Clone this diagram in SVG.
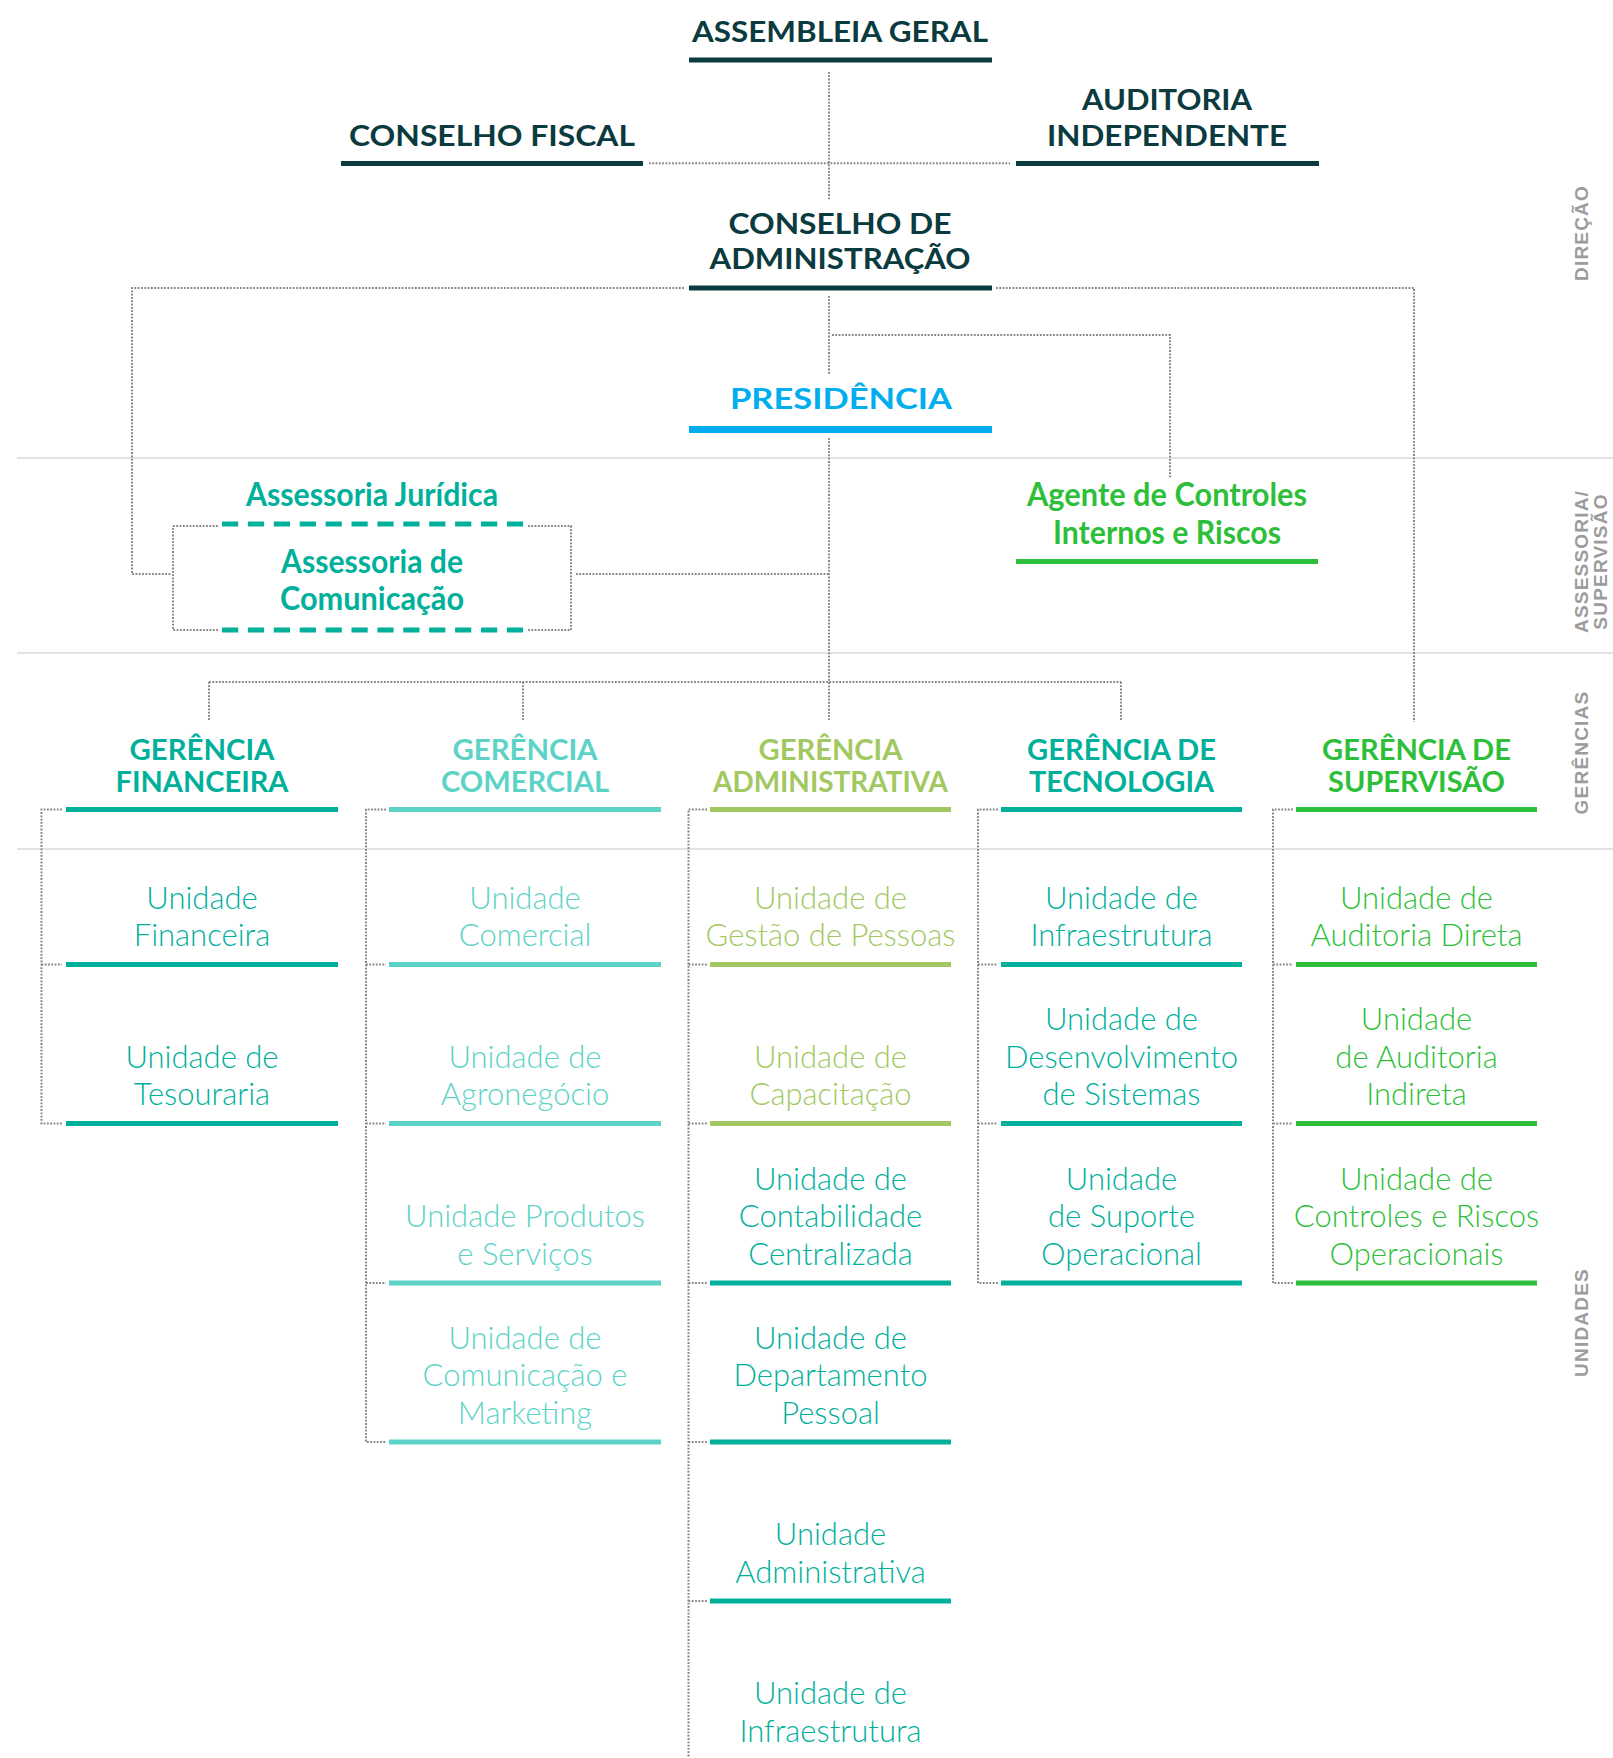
<svg xmlns="http://www.w3.org/2000/svg" width="1613" height="1758" viewBox="0 0 1613 1758">
<style>
.h{font-family:Lato,"Liberation Sans",sans-serif;font-weight:700;text-anchor:middle}
.top{font-size:29px;fill:#0b3b3e}
.g{font-size:28px}
.a{font-size:32px}
.u{font-family:Lato,"Liberation Sans",sans-serif;font-weight:300;font-size:31px;text-anchor:middle}
.side{font-family:"Liberation Sans",Arial,sans-serif;font-weight:700;font-size:19px;letter-spacing:1.2px;fill:#9c9c9c;text-anchor:middle}
.dot{stroke:#858585;stroke-width:2;stroke-dasharray:1.8 1.5;fill:none}
.sep{stroke:#e3e3e3;stroke-width:2}
.teal{fill:#00b09b}.lteal{fill:#5cd3c6}.lgreen{fill:#a2c862}.green{fill:#2ebf3a}.dark{fill:#0b3b3e}.cyan{fill:#00aeef}
</style>
<rect width="1613" height="1758" fill="#fff"/>
<g id="separators">
<line class="sep" x1="17" y1="458" x2="1613" y2="458"/>
<line class="sep" x1="17" y1="653" x2="1613" y2="653"/>
<line class="sep" x1="17" y1="849" x2="1613" y2="849"/>
</g>
<g id="side-labels">
<text class="side" transform="translate(1588,233) rotate(-90)">DIREÇÃO</text>
<text class="side" transform="translate(1588,561.5) rotate(-90)">ASSESSORIA/</text>
<text class="side" transform="translate(1607,561.5) rotate(-90)">SUPERVISÃO</text>
<text class="side" transform="translate(1588,752.5) rotate(-90)">GERÊNCIAS</text>
<text class="side" transform="translate(1588,1322.5) rotate(-90)">UNIDADES</text>
</g>
<g id="connectors">
<path class="dot" d="M829 72V200M649 163.3H1010"/>
<path class="dot" d="M684 288H132V574H171M996 288H1414V722"/>
<path class="dot" d="M829 296V375M832 335H1170V478"/>
<path class="dot" d="M173 526H218M528 526H571V630H528M218 630H173V526"/>
<path class="dot" d="M576 574H829M829 438V720M209 682H1121M209 682V720M523 682V720M1121 682V720"/>
<path class="dot" d="M62 809.5H41.5V1123.5H62M41.5 964.5H62"/>
<path class="dot" d="M386 809.5H366V1442H386M366 964.5H386M366 1123.5H386M366 1283H386"/>
<path class="dot" d="M707 809.5H688.5V1758M688.5 964.5H707M688.5 1123.5H707M688.5 1283H707M688.5 1442H707M688.5 1601H707"/>
<path class="dot" d="M998 809.5H978V1283H998M978 964.5H998M978 1123.5H998"/>
<path class="dot" d="M1293 809.5H1273V1283H1293M1273 964.5H1293M1273 1123.5H1293"/>
</g>
<g id="assembleia-geral">
<text class="h top" x="840" y="41.7" textLength="296" lengthAdjust="spacingAndGlyphs">ASSEMBLEIA GERAL</text>
<rect class="dark" x="689" y="57.5" width="303" height="5"/>
</g>
<g id="conselho-fiscal">
<text class="h top" x="492" y="145.7" textLength="286" lengthAdjust="spacingAndGlyphs">CONSELHO FISCAL</text>
<rect class="dark" x="341" y="161" width="302" height="5"/>
</g>
<g id="auditoria-independente">
<text class="h top" x="1167" y="110" textLength="170" lengthAdjust="spacingAndGlyphs">AUDITORIA</text>
<text class="h top" x="1167" y="145.7" textLength="240" lengthAdjust="spacingAndGlyphs">INDEPENDENTE</text>
<rect class="dark" x="1016" y="161" width="303" height="5"/>
</g>
<g id="conselho-administracao">
<text class="h top" x="840" y="234" textLength="223" lengthAdjust="spacingAndGlyphs">CONSELHO DE</text>
<text class="h top" x="840" y="269" textLength="261" lengthAdjust="spacingAndGlyphs">ADMINISTRAÇÃO</text>
<rect class="dark" x="689" y="285.5" width="303" height="5"/>
</g>
<g id="presidencia">
<text class="h top cyan" x="841" y="409" textLength="222" lengthAdjust="spacingAndGlyphs">PRESIDÊNCIA</text>
<rect class="cyan" x="689" y="426" width="303" height="7"/>
</g>
<g id="assessoria-juridica">
<text class="h a teal" x="372" y="506" textLength="252" lengthAdjust="spacingAndGlyphs">Assessoria Jurídica</text>
<line x1="222" y1="524" x2="524" y2="524" stroke="#00b09b" stroke-width="5" stroke-dasharray="16.2 9.7"/>
</g>
<g id="assessoria-comunicacao">
<text class="h a teal" x="372" y="573" textLength="182" lengthAdjust="spacingAndGlyphs">Assessoria de</text>
<text class="h a teal" x="372" y="610" textLength="184" lengthAdjust="spacingAndGlyphs">Comunicação</text>
<line x1="222" y1="630" x2="524" y2="630" stroke="#00b09b" stroke-width="5" stroke-dasharray="16.2 9.7"/>
</g>
<g id="agente-controles">
<text class="h a green" x="1167" y="506" textLength="280" lengthAdjust="spacingAndGlyphs">Agente de Controles</text>
<text class="h a green" x="1167" y="544" textLength="228" lengthAdjust="spacingAndGlyphs">Internos e Riscos</text>
<rect class="green" x="1016" y="559" width="302" height="5"/>
</g>
<g id="gerencia-financeira">
<text class="h g teal" x="202" y="760" textLength="145" lengthAdjust="spacingAndGlyphs">GERÊNCIA</text>
<text class="h g teal" x="202" y="792" textLength="173" lengthAdjust="spacingAndGlyphs">FINANCEIRA</text>
<rect class="teal" x="66" y="807" width="272" height="5"/>
</g>
<g id="gerencia-comercial">
<text class="h g lteal" x="525" y="760" textLength="145" lengthAdjust="spacingAndGlyphs">GERÊNCIA</text>
<text class="h g lteal" x="525" y="792" textLength="168" lengthAdjust="spacingAndGlyphs">COMERCIAL</text>
<rect class="lteal" x="389" y="807" width="272" height="5"/>
</g>
<g id="gerencia-administrativa">
<text class="h g lgreen" x="830.5" y="760" textLength="144" lengthAdjust="spacingAndGlyphs">GERÊNCIA</text>
<text class="h g lgreen" x="830.5" y="792" textLength="235" lengthAdjust="spacingAndGlyphs">ADMINISTRATIVA</text>
<rect class="lgreen" x="710" y="807" width="241" height="5"/>
</g>
<g id="gerencia-tecnologia">
<text class="h g teal" x="1121.5" y="760" textLength="189" lengthAdjust="spacingAndGlyphs">GERÊNCIA DE</text>
<text class="h g teal" x="1121.5" y="792" textLength="185" lengthAdjust="spacingAndGlyphs">TECNOLOGIA</text>
<rect class="teal" x="1001" y="807" width="241" height="5"/>
</g>
<g id="gerencia-supervisao">
<text class="h g green" x="1416.5" y="760" textLength="189" lengthAdjust="spacingAndGlyphs">GERÊNCIA DE</text>
<text class="h g green" x="1416.5" y="792" textLength="177" lengthAdjust="spacingAndGlyphs">SUPERVISÃO</text>
<rect class="green" x="1296" y="807" width="241" height="5"/>
</g>
<g id="unidade-financeira">
<text class="u teal" x="202" y="908.5">Unidade</text>
<text class="u teal" x="202" y="946">Financeira</text>
<rect class="teal" x="66" y="962" width="272" height="5"/>
</g>
<g id="unidade-tesouraria">
<text class="u teal" x="202" y="1067.5">Unidade de</text>
<text class="u teal" x="202" y="1105">Tesouraria</text>
<rect class="teal" x="66" y="1121" width="272" height="5"/>
</g>
<g id="unidade-comercial">
<text class="u lteal" x="525" y="908.5">Unidade</text>
<text class="u lteal" x="525" y="946">Comercial</text>
<rect class="lteal" x="389" y="962" width="272" height="5"/>
</g>
<g id="unidade-agronegocio">
<text class="u lteal" x="525" y="1067.5">Unidade de</text>
<text class="u lteal" x="525" y="1105">Agronegócio</text>
<rect class="lteal" x="389" y="1121" width="272" height="5"/>
</g>
<g id="unidade-produtos-servicos">
<text class="u lteal" x="525" y="1227">Unidade Produtos</text>
<text class="u lteal" x="525" y="1264.5">e Serviços</text>
<rect class="lteal" x="389" y="1280.5" width="272" height="5"/>
</g>
<g id="unidade-comunicacao-marketing">
<text class="u lteal" x="525" y="1348.5">Unidade de</text>
<text class="u lteal" x="525" y="1386">Comunicação e</text>
<text class="u lteal" x="525" y="1423.5">Marketing</text>
<rect class="lteal" x="389" y="1439.5" width="272" height="5"/>
</g>
<g id="unidade-gestao-pessoas">
<text class="u lgreen" x="830.5" y="908.5">Unidade de</text>
<text class="u lgreen" x="830.5" y="946">Gestão de Pessoas</text>
<rect class="lgreen" x="710" y="962" width="241" height="5"/>
</g>
<g id="unidade-capacitacao">
<text class="u lgreen" x="830.5" y="1067.5">Unidade de</text>
<text class="u lgreen" x="830.5" y="1105">Capacitação</text>
<rect class="lgreen" x="710" y="1121" width="241" height="5"/>
</g>
<g id="unidade-contabilidade">
<text class="u teal" x="830.5" y="1189.5">Unidade de</text>
<text class="u teal" x="830.5" y="1227">Contabilidade</text>
<text class="u teal" x="830.5" y="1264.5">Centralizada</text>
<rect class="teal" x="710" y="1280.5" width="241" height="5"/>
</g>
<g id="unidade-departamento-pessoal">
<text class="u teal" x="830.5" y="1348.5">Unidade de</text>
<text class="u teal" x="830.5" y="1386">Departamento</text>
<text class="u teal" x="830.5" y="1423.5">Pessoal</text>
<rect class="teal" x="710" y="1439.5" width="241" height="5"/>
</g>
<g id="unidade-administrativa">
<text class="u teal" x="830.5" y="1545">Unidade</text>
<text class="u teal" x="830.5" y="1582.5">Administrativa</text>
<rect class="teal" x="710" y="1598.5" width="241" height="5"/>
</g>
<g id="unidade-infraestrutura-adm">
<text class="u teal" x="830.5" y="1704">Unidade de</text>
<text class="u teal" x="830.5" y="1741.5">Infraestrutura</text>
</g>
<g id="unidade-infraestrutura">
<text class="u teal" x="1121.5" y="908.5">Unidade de</text>
<text class="u teal" x="1121.5" y="946">Infraestrutura</text>
<rect class="teal" x="1001" y="962" width="241" height="5"/>
</g>
<g id="unidade-desenvolvimento">
<text class="u teal" x="1121.5" y="1030">Unidade de</text>
<text class="u teal" x="1121.5" y="1067.5">Desenvolvimento</text>
<text class="u teal" x="1121.5" y="1105">de Sistemas</text>
<rect class="teal" x="1001" y="1121" width="241" height="5"/>
</g>
<g id="unidade-suporte">
<text class="u teal" x="1121.5" y="1189.5">Unidade</text>
<text class="u teal" x="1121.5" y="1227">de Suporte</text>
<text class="u teal" x="1121.5" y="1264.5">Operacional</text>
<rect class="teal" x="1001" y="1280.5" width="241" height="5"/>
</g>
<g id="unidade-auditoria-direta">
<text class="u green" x="1416.5" y="908.5">Unidade de</text>
<text class="u green" x="1416.5" y="946">Auditoria Direta</text>
<rect class="green" x="1296" y="962" width="241" height="5"/>
</g>
<g id="unidade-auditoria-indireta">
<text class="u green" x="1416.5" y="1030">Unidade</text>
<text class="u green" x="1416.5" y="1067.5">de Auditoria</text>
<text class="u green" x="1416.5" y="1105">Indireta</text>
<rect class="green" x="1296" y="1121" width="241" height="5"/>
</g>
<g id="unidade-controles-riscos">
<text class="u green" x="1416.5" y="1189.5">Unidade de</text>
<text class="u green" x="1416.5" y="1227">Controles e Riscos</text>
<text class="u green" x="1416.5" y="1264.5">Operacionais</text>
<rect class="green" x="1296" y="1280.5" width="241" height="5"/>
</g>
</svg>
